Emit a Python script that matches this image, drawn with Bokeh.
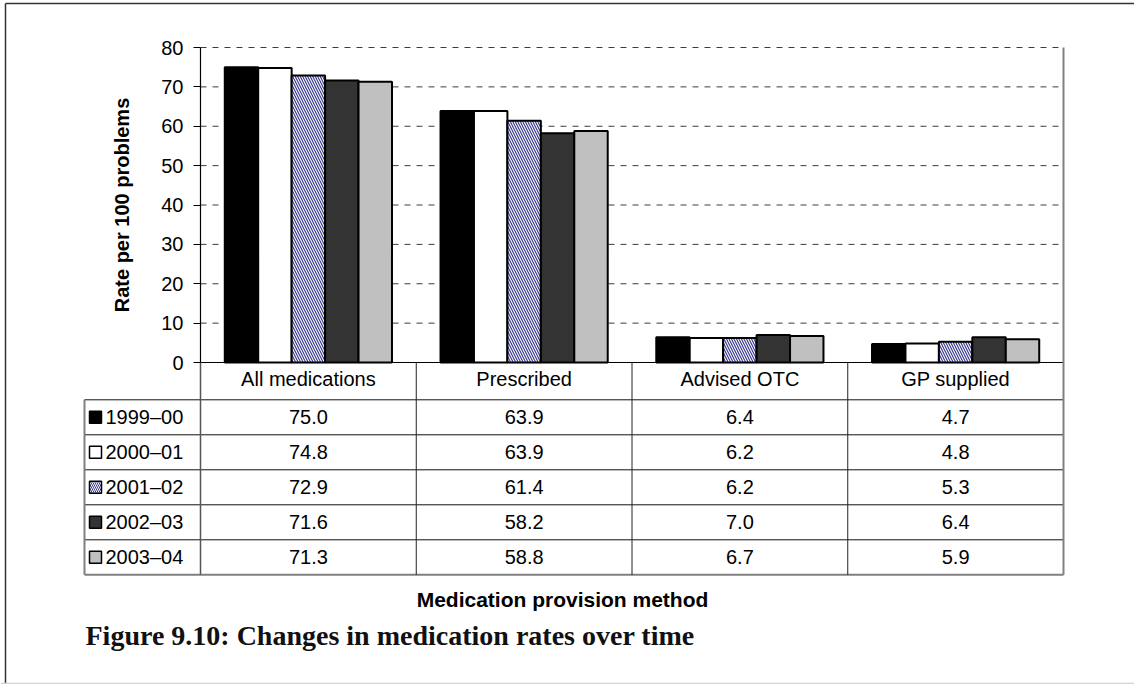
import math
from bokeh.plotting import figure
from bokeh.models import Range1d, LinearAxis, FixedTicker
from bokeh.core.properties import value
from bokeh.embed import file_html
from bokeh.resources import INLINE

# ---------------- data ----------------
categories = ["All medications", "Prescribed", "Advised OTC", "GP supplied"]
years = ["1999–00", "2000–01", "2001–02", "2002–03", "2003–04"]
rate_1999_00 = [75.0, 63.9, 6.4, 4.7]
rate_2000_01 = [74.8, 63.9, 6.2, 4.8]
rate_2001_02 = [72.9, 61.4, 6.2, 5.3]
rate_2002_03 = [71.6, 58.2, 7.0, 6.4]
rate_2003_04 = [71.3, 58.8, 6.7, 5.9]
y_ticks = [0, 10, 20, 30, 40, 50, 60, 70, 80]
y_title = "Rate per 100 problems"
x_title = "Medication provision method"
caption = "Figure 9.10: Changes in medication rates over time"

series = [rate_1999_00, rate_2000_01, rate_2001_02, rate_2002_03, rate_2003_04]

# ---------------- styles ----------------
fills = ["#000000", "#ffffff", "#ffffff", "#333333", "#c0c0c0"]
hatches = [None, None, "\\", None, None]
HATCH_COLOR = "#3a3a90"
SANS = value("Liberation Sans")
SERIF = value("Liberation Serif")

# ---------------- layout (page pixels) ----------------
OFF = 0
W, H = 1134, 684
PLOT_L, PLOT_R = 200.0, 1063.0
Y0_PX, YTOP_PX = 362.0, 47.0
YMAX = 80.0
cat_w = (PLOT_R - PLOT_L) / len(categories)
unit_y = (Y0_PX - YTOP_PX) / YMAX


def X(px):
    return (px - PLOT_L) / cat_w


def Y(py):
    return (Y0_PX - py) / unit_y


TABLE_L = 84.0
HEADER_BOTTOM = 399.3
ROW_H = 35.0
row_tops = [HEADER_BOTTOM + k * ROW_H for k in range(len(years))]
row_centers = [t + ROW_H / 2 for t in row_tops]
TABLE_BOTTOM = HEADER_BOTTOM + ROW_H * len(years)

p = figure(width=W, height=H,
           x_range=Range1d(X(OFF), X(OFF + W)),
           y_range=Range1d(Y(OFF + H), Y(OFF)),
           output_backend="svg", toolbar_location=None,
           x_axis_type=None, y_axis_type=None,
           min_border=0, outline_line_color=None,
           background_fill_color="white", border_fill_color="white")

# outer frame (left, top, faint bottom)
p.segment(x0=[X(5)], x1=[X(5)], y0=[Y(3)], y1=[Y(683)], line_color="#333333", line_width=1.5)
p.segment(x0=[X(5)], x1=[X(W)], y0=[Y(3)], y1=[Y(3)], line_color="#333333", line_width=1.5)
p.segment(x0=[X(0)], x1=[X(W)], y0=[Y(683)], y1=[Y(683)], line_color="#d4d4d4", line_width=1.5)

# gridlines
grid_vals = [t for t in y_ticks if t > 0]
ncat = len(categories)
p.segment(x0=[0] * len(grid_vals), x1=[ncat] * len(grid_vals), y0=grid_vals, y1=grid_vals,
          line_color="#3c3c3c", line_width=1, line_dash="6 6")

# bars
bar_w = 0.155
nser = len(series)
for k, vals in enumerate(series):
    xs = [i + 0.5 + (k - (nser - 1) / 2) * bar_w for i in range(ncat)]
    kw = dict(fill_color=fills[k], line_color="black", line_width=2)
    if hatches[k]:
        kw.update(hatch_pattern=hatches[k], hatch_color=HATCH_COLOR, hatch_scale=5, hatch_weight=1.2)
    p.vbar(x=xs, top=vals, bottom=0, width=bar_w, **kw)

# x axis line at 0
p.segment(x0=[0], x1=[ncat], y0=[0], y1=[0], line_color="black", line_width=1.2)

# y axis
ax = LinearAxis(fixed_location=0, bounds=(0, YMAX), ticker=FixedTicker(ticks=y_ticks),
                major_label_text_font="Liberation Sans", major_label_text_font_size="20px",
                major_label_text_color="black", major_tick_out=7, major_tick_in=0,
                minor_tick_out=0, minor_tick_in=0, major_label_standoff=10,
                axis_line_color="black", major_tick_line_color="black", axis_line_width=1.2)
p.add_layout(ax, "left")

# table lines
inner_h = row_tops[:]
p.segment(x0=[X(TABLE_L)] * len(inner_h), x1=[ncat] * len(inner_h),
          y0=[Y(v) for v in inner_h], y1=[Y(v) for v in inner_h],
          line_color="#111111", line_width=1)
p.segment(x0=[X(TABLE_L)], x1=[ncat], y0=[Y(TABLE_BOTTOM)], y1=[Y(TABLE_BOTTOM)],
          line_color="#808080", line_width=2)
p.segment(x0=[X(TABLE_L)], x1=[X(TABLE_L)], y0=[Y(HEADER_BOTTOM)], y1=[Y(TABLE_BOTTOM)],
          line_color="#808080", line_width=2)
p.segment(x0=[0], x1=[0], y0=[0], y1=[Y(TABLE_BOTTOM)], line_color="#555555", line_width=1.5)
inner_v = list(range(1, ncat))
p.segment(x0=inner_v, x1=inner_v, y0=[0] * len(inner_v), y1=[Y(TABLE_BOTTOM)] * len(inner_v),
          line_color="#222222", line_width=1)
p.segment(x0=[ncat], x1=[ncat], y0=[YMAX], y1=[Y(TABLE_BOTTOM)], line_color="#808080", line_width=2)

# header labels
p.text(x=[i + 0.5 for i in range(ncat)], y=[Y(378.8)] * ncat, text=categories,
       text_font=SANS, text_font_size="20px", text_align="center",
       text_baseline="middle", text_color="black")

# table values
for k, vals in enumerate(series):
    p.text(x=[i + 0.5 for i in range(ncat)], y=[Y(row_centers[k])] * ncat,
           text=[f"{v:.1f}" for v in vals],
           text_font=SANS, text_font_size="20px", text_align="center",
           text_baseline="middle", text_color="black")

# row labels + keys
p.text(x=[X(105)] * nser, y=[Y(c) for c in row_centers], text=years,
       text_font=SANS, text_font_size="20px", text_align="left",
       text_baseline="middle", text_color="black")
for k in range(nser):
    kw = dict(fill_color=fills[k], line_color="black", line_width=1.5)
    if hatches[k]:
        kw.update(hatch_pattern=hatches[k], hatch_color=HATCH_COLOR, hatch_scale=4, hatch_weight=1)
    p.scatter(x=[X(95)], y=[Y(row_centers[k])], marker="square", size=12, **kw)

# titles
p.text(x=[X(121)], y=[YMAX / 2], text=[y_title], angle=math.pi / 2,
       text_font=SANS, text_font_size="20px", text_font_style="bold",
       text_align="center", text_baseline="middle", text_color="black")
p.text(x=[X(562)], y=[Y(599.4)], text=[x_title],
       text_font=SANS, text_font_size="21px", text_font_style="bold",
       text_align="center", text_baseline="middle", text_color="black")
p.text(x=[X(85)], y=[Y(634.5)], text=[caption],
       text_font=SERIF, text_font_size="28px", text_font_style="bold",
       text_align="left", text_baseline="middle", text_color="#111111")

open("out.html", "w").write(file_html(p, INLINE))
